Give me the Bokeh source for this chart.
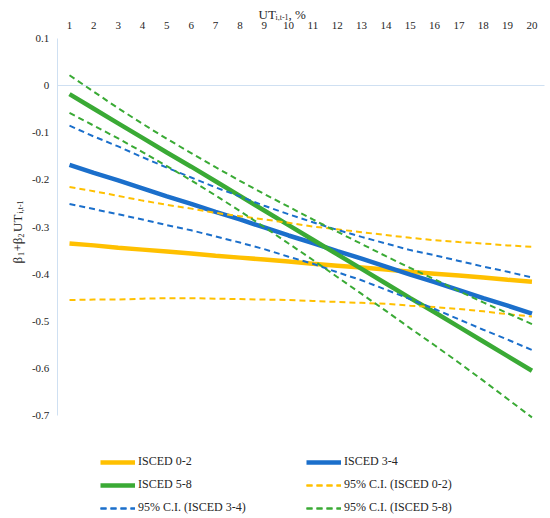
from math import pi

from bokeh.embed import file_html
from bokeh.models import FixedTicker, Label, LinearAxis, Range1d
from bokeh.plotting import figure
from bokeh.resources import INLINE

# UT(i,t-1), % on the top axis
ut = list(range(1, 21))

# predicted beta1 + beta2*UT per education group
isced_02 = [-0.335, -0.339, -0.344, -0.348, -0.352, -0.356, -0.361, -0.365, -0.369, -0.373,
            -0.378, -0.382, -0.386, -0.390, -0.395, -0.399, -0.403, -0.407, -0.412, -0.416]
isced_34 = [-0.168, -0.185, -0.201, -0.218, -0.235, -0.251, -0.268, -0.284, -0.301, -0.318,
            -0.334, -0.351, -0.367, -0.384, -0.401, -0.417, -0.434, -0.451, -0.467, -0.484]
isced_58 = [-0.018, -0.049, -0.080, -0.111, -0.142, -0.172, -0.203, -0.234, -0.265, -0.296,
            -0.327, -0.358, -0.389, -0.420, -0.451, -0.481, -0.512, -0.543, -0.574, -0.605]

# 95% confidence bands
ci_02_upper = [-0.215, -0.224, -0.234, -0.244, -0.253, -0.261, -0.270, -0.277, -0.284, -0.291,
               -0.299, -0.305, -0.311, -0.317, -0.323, -0.328, -0.332, -0.335, -0.339, -0.342]
ci_02_lower = [-0.455, -0.454, -0.454, -0.452, -0.451, -0.451, -0.452, -0.453, -0.454, -0.455,
               -0.457, -0.459, -0.461, -0.463, -0.467, -0.470, -0.474, -0.479, -0.485, -0.490]
ci_34_upper = [-0.085, -0.108, -0.129, -0.152, -0.174, -0.195, -0.216, -0.235, -0.255, -0.273,
               -0.290, -0.306, -0.321, -0.335, -0.349, -0.360, -0.372, -0.384, -0.395, -0.407]
ci_34_lower = [-0.251, -0.262, -0.273, -0.284, -0.296, -0.307, -0.320, -0.333, -0.347, -0.363,
               -0.378, -0.396, -0.413, -0.433, -0.453, -0.474, -0.496, -0.518, -0.539, -0.561]
ci_58_upper = [0.022, -0.013, -0.048, -0.081, -0.113, -0.143, -0.173, -0.202, -0.230, -0.257,
               -0.284, -0.310, -0.336, -0.362, -0.387, -0.411, -0.436, -0.460, -0.483, -0.506]
ci_58_lower = [-0.058, -0.085, -0.112, -0.141, -0.171, -0.201, -0.233, -0.266, -0.300, -0.335,
               -0.370, -0.406, -0.442, -0.478, -0.515, -0.551, -0.588, -0.626, -0.665, -0.704]

y_ticks = [0.1, 0.0, -0.1, -0.2, -0.3, -0.4, -0.5, -0.6, -0.7]
y_tick_labels = ["0.1", "0", "-0.1", "-0.2", "-0.3", "-0.4", "-0.5", "-0.6", "-0.7"]

YELLOW = "#FFC000"
BLUE = "#1B6FCB"
GREEN = "#3AAA35"
AXIS = "#CFE0F2"
TEXT = "#262626"
FONT = "Liberation Serif"

W, H = 550, 518
X1_PX, PX_PER_X = 69, 24.34      # pixel of UT=1, pixels per category
Y01_PX, PX_PER_Y = 38, 377 / 0.8  # pixel of 0.1, pixels per 1.0


def to_x(px):
    return 1 + (px - X1_PX) / PX_PER_X


def to_y(py):
    return 0.1 - (py - Y01_PX) / PX_PER_Y


# the frame fills the whole canvas; axes sit at fixed data locations inside it
p = figure(width=W, height=H, output_backend="svg", toolbar_location=None,
           x_range=Range1d(to_x(0), to_x(W)), y_range=Range1d(to_y(H), to_y(0)),
           x_axis_location=None, y_axis_location=None,
           min_border=0)
p.outline_line_color = None
p.grid.visible = False

# top category labels (axis "high" position)
top_axis = LinearAxis(ticker=FixedTicker(ticks=ut), fixed_location=0.1,
                      axis_line_color=None, major_tick_line_color=None,
                      minor_tick_line_color=None, major_tick_out=0, major_tick_in=0,
                      major_label_standoff=10, major_label_text_font=FONT,
                      major_label_text_font_size="11px", major_label_text_color=TEXT)
p.add_layout(top_axis, "above")

# horizontal axis line crossing at 0
zero_axis = LinearAxis(ticker=FixedTicker(ticks=[]), fixed_location=0.0, bounds=(0.5, 20.5),
                       axis_line_color=AXIS, axis_line_width=1,
                       major_tick_line_color=None, minor_tick_line_color=None,
                       major_tick_out=0, major_tick_in=0, major_label_text_color=None)
p.add_layout(zero_axis, "below")

left_axis = LinearAxis(ticker=FixedTicker(ticks=y_ticks), fixed_location=0.5, bounds=(-0.7, 0.1),
                       major_label_overrides=dict(zip(y_ticks, y_tick_labels)),
                       axis_line_color=AXIS, axis_line_width=1,
                       major_tick_line_color=None, minor_tick_line_color=None,
                       major_tick_out=0, major_tick_in=0,
                       major_label_standoff=8, major_label_text_font=FONT,
                       major_label_text_font_size="11px", major_label_text_color=TEXT)
p.add_layout(left_axis, "left")

solid = dict(line_width=4.5)
dashed = dict(line_width=2, line_dash="6 4")
p.line(ut, isced_02, color=YELLOW, legend_label="ISCED 0-2", **solid)
p.line(ut, isced_34, color=BLUE, legend_label="ISCED 3-4", **solid)
p.line(ut, isced_58, color=GREEN, legend_label="ISCED 5-8", **solid)
for upper, lower, color, name in [(ci_02_upper, ci_02_lower, YELLOW, "95% C.I. (ISCED 0-2)"),
                                  (ci_34_upper, ci_34_lower, BLUE, "95% C.I. (ISCED 3-4)"),
                                  (ci_58_upper, ci_58_lower, GREEN, "95% C.I. (ISCED 5-8)")]:
    p.line(ut, upper, color=color, legend_label=name, **dashed)
    p.line(ut, lower, color=color, legend_label=name, **dashed)

leg = p.legend[0]
leg.orientation = "horizontal"
leg.ncols = 2
leg.location = (100, 3)
leg.border_line_color = None
leg.background_fill_alpha = 0
leg.padding = 0
leg.margin = 0
leg.spacing = 8
leg.glyph_width = 35
leg.glyph_height = 14
leg.label_height = 14
leg.label_width = 160
leg.label_standoff = 3
leg.label_text_font = FONT
leg.label_text_font_size = "12px"
leg.label_text_color = TEXT


def add_text(px, py, text, size, angle=0.0):
    p.add_layout(Label(x=to_x(px), y=to_y(py), text=text, angle=angle,
                       text_font=FONT, text_font_size=size, text_color=TEXT,
                       text_align="left", text_baseline="alphabetic"))


# top axis title: UT_{i,t-1}, %
add_text(258, 14, "UT", "13px")
add_text(275, 16.5, "i,t-1", "8px")
add_text(288, 14, ", %", "13px")

# left axis title, rotated: β1+β2UT_{i,t-1}
for py, text, sub in [(263, "β", False), (255.5, "1", True), (251, "+β", False),
                      (237, "2", True), (231.5, "UT", False), (213, "i,t-1", True)]:
    add_text(20 if sub else 17, py, text, "8px" if sub else "13px", angle=pi / 2)

open("out.html", "w").write(file_html(p, INLINE))
